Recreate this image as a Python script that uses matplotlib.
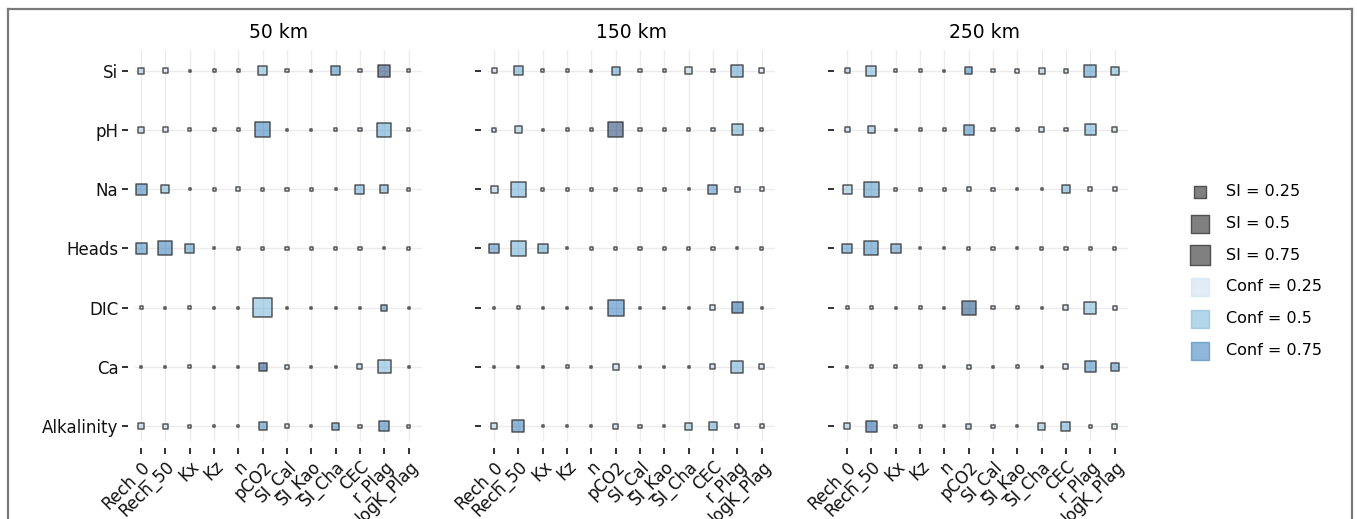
import numpy as np
import matplotlib
matplotlib.use("Agg")
import matplotlib.pyplot as plt
from matplotlib.lines import Line2D

params = ["Rech_0", "Rech_50", "Kx", "Kz", "n", "pCO2", "SI_Cal", "SI_Kao",
          "SI_Cha", "CEC", "r_Plag", "logK_Plag"]
targets = ["Si", "pH", "Na", "Heads", "DIC", "Ca", "Alkalinity"]
distances = ["50 km", "150 km", "250 km"]

# sensitivity index (marker size), one row per target
si_50 = [
    [0.06, 0.043, 0.007, 0.016, 0.016, 0.14, 0.016, 0.007, 0.14, 0.016, 0.25, 0.016],
    [0.06, 0.043, 0.016, 0.016, 0.016, 0.39, 0.007, 0.007, 0.016, 0.016, 0.34, 0.016],
    [0.21, 0.11, 0.007, 0.016, 0.028, 0.016, 0.016, 0.016, 0.007, 0.14, 0.11, 0.016],
    [0.21, 0.34, 0.14, 0.007, 0.016, 0.016, 0.016, 0.016, 0.016, 0.016, 0.007, 0.016],
    [0.016, 0.007, 0.016, 0.007, 0.007, 0.62, 0.007, 0.007, 0.007, 0.007, 0.06, 0.007],
    [0.007, 0.007, 0.016, 0.007, 0.007, 0.11, 0.028, 0.007, 0.007, 0.043, 0.29, 0.007],
    [0.06, 0.043, 0.016, 0.007, 0.007, 0.11, 0.028, 0.007, 0.085, 0.016, 0.17, 0.016],
]
si_150 = [
    [0.043, 0.14, 0.016, 0.016, 0.007, 0.11, 0.016, 0.016, 0.085, 0.016, 0.25, 0.043],
    [0.028, 0.085, 0.007, 0.016, 0.016, 0.39, 0.016, 0.016, 0.016, 0.016, 0.21, 0.016],
    [0.085, 0.39, 0.016, 0.016, 0.016, 0.016, 0.016, 0.016, 0.007, 0.14, 0.043, 0.028],
    [0.17, 0.39, 0.17, 0.007, 0.016, 0.016, 0.016, 0.016, 0.016, 0.016, 0.007, 0.016],
    [0.007, 0.016, 0.007, 0.007, 0.007, 0.44, 0.007, 0.007, 0.007, 0.043, 0.21, 0.007],
    [0.007, 0.007, 0.007, 0.016, 0.007, 0.06, 0.007, 0.007, 0.007, 0.043, 0.25, 0.043],
    [0.06, 0.25, 0.007, 0.007, 0.007, 0.043, 0.016, 0.007, 0.085, 0.11, 0.028, 0.028],
]
si_250 = [
    [0.043, 0.17, 0.016, 0.016, 0.007, 0.085, 0.016, 0.028, 0.06, 0.028, 0.25, 0.11],
    [0.043, 0.085, 0.007, 0.016, 0.016, 0.17, 0.016, 0.016, 0.043, 0.016, 0.21, 0.043],
    [0.14, 0.39, 0.016, 0.016, 0.016, 0.028, 0.016, 0.007, 0.007, 0.11, 0.028, 0.028],
    [0.17, 0.34, 0.17, 0.007, 0.007, 0.016, 0.016, 0.007, 0.016, 0.016, 0.016, 0.016],
    [0.016, 0.016, 0.007, 0.016, 0.007, 0.34, 0.016, 0.016, 0.007, 0.043, 0.25, 0.028],
    [0.007, 0.016, 0.016, 0.016, 0.007, 0.028, 0.007, 0.016, 0.007, 0.043, 0.21, 0.11],
    [0.06, 0.21, 0.016, 0.016, 0.007, 0.043, 0.016, 0.007, 0.085, 0.14, 0.016, 0.043],
]

# confidence (marker colour)
conf_50 = [
    [0.4, 0.2, 0.3, 0.3, 0.3, 0.5, 0.3, 0.3, 0.7, 0.3, 1.0, 0.3],
    [0.35, 0.2, 0.3, 0.3, 0.3, 0.75, 0.3, 0.3, 0.3, 0.3, 0.6, 0.3],
    [0.75, 0.5, 0.3, 0.3, 0.2, 0.3, 0.3, 0.3, 0.3, 0.55, 0.55, 0.3],
    [0.7, 0.75, 0.65, 0.3, 0.3, 0.3, 0.3, 0.3, 0.3, 0.3, 0.3, 0.3],
    [0.3, 0.3, 0.3, 0.3, 0.3, 0.5, 0.3, 0.3, 0.3, 0.3, 0.7, 0.3],
    [0.3, 0.3, 0.3, 0.3, 0.3, 0.95, 0.3, 0.3, 0.3, 0.35, 0.5, 0.3],
    [0.35, 0.3, 0.3, 0.3, 0.3, 0.7, 0.25, 0.3, 0.7, 0.3, 0.75, 0.3],
]
conf_150 = [
    [0.3, 0.55, 0.3, 0.3, 0.3, 0.6, 0.3, 0.3, 0.35, 0.3, 0.6, 0.2],
    [0.3, 0.4, 0.3, 0.3, 0.3, 1.0, 0.3, 0.3, 0.3, 0.3, 0.55, 0.3],
    [0.35, 0.55, 0.3, 0.3, 0.3, 0.3, 0.3, 0.3, 0.3, 0.65, 0.2, 0.2],
    [0.7, 0.55, 0.6, 0.3, 0.3, 0.3, 0.3, 0.3, 0.3, 0.3, 0.3, 0.3],
    [0.3, 0.3, 0.3, 0.3, 0.3, 0.75, 0.3, 0.3, 0.3, 0.25, 0.85, 0.3],
    [0.3, 0.3, 0.3, 0.3, 0.3, 0.3, 0.3, 0.3, 0.3, 0.3, 0.55, 0.3],
    [0.35, 0.75, 0.3, 0.3, 0.3, 0.3, 0.3, 0.3, 0.45, 0.55, 0.25, 0.25],
]
conf_250 = [
    [0.4, 0.5, 0.3, 0.3, 0.3, 0.7, 0.3, 0.2, 0.4, 0.3, 0.65, 0.5],
    [0.3, 0.45, 0.3, 0.3, 0.3, 0.7, 0.3, 0.3, 0.3, 0.3, 0.55, 0.3],
    [0.45, 0.65, 0.3, 0.3, 0.3, 0.3, 0.3, 0.3, 0.3, 0.55, 0.25, 0.25],
    [0.65, 0.7, 0.65, 0.3, 0.3, 0.3, 0.3, 0.3, 0.3, 0.3, 0.3, 0.3],
    [0.3, 0.3, 0.3, 0.3, 0.3, 0.95, 0.3, 0.3, 0.3, 0.3, 0.5, 0.25],
    [0.3, 0.3, 0.3, 0.3, 0.3, 0.3, 0.3, 0.3, 0.3, 0.3, 0.7, 0.65],
    [0.4, 0.85, 0.3, 0.3, 0.3, 0.4, 0.3, 0.3, 0.45, 0.55, 0.3, 0.3],
]

si_all = [si_50, si_150, si_250]
conf_all = [conf_50, conf_150, conf_250]

legend_si = [0.25, 0.5, 0.75]
legend_conf = [0.25, 0.5, 0.75]

SIZE = 300  # points^2 per unit SI
cmap = plt.get_cmap("Blues")
FS = 12

fig = plt.figure(figsize=(13.57, 5.19), dpi=100)

lefts = [135 / 1357, 488 / 1357, 841 / 1357]
width = 287 / 1357
bottom = 1 - 441 / 519
height = (441 - 50) / 519

xx, yy = np.meshgrid(np.arange(len(params)), np.arange(len(targets)))

for i, name in enumerate(distances):
    ax = fig.add_axes([lefts[i], bottom, width, height])
    si = np.array(si_all[i])
    conf = np.array(conf_all[i])
    faces = cmap(conf.ravel())
    faces[:, 3] = 0.5
    ax.scatter(xx.ravel(), yy.ravel(), s=si.ravel() * SIZE, marker="s",
               c=faces, edgecolors=(0.2, 0.2, 0.2, 0.8), linewidths=1.1,
               zorder=3)
    ax.set_xlim(-0.25, 11.55)
    ax.set_ylim(6.25, -0.35)
    ax.grid(True, color="#ebebeb", lw=1.0)
    ax.set_axisbelow(True)
    for side in ["left", "bottom"]:
        ax.spines[side].set_position(("outward", 5))
    for side in ax.spines:
        ax.spines[side].set_visible(False)
    ax.tick_params(axis="both", length=4, width=1.3, color="#222222",
                   labelcolor="#111111", pad=3, labelsize=FS)
    ax.set_xticks(range(len(params)))
    ax.set_xticklabels(params)
    for lab in ax.get_xticklabels():
        lab.set_rotation(45)
        lab.set_ha("right")
        lab.set_rotation_mode("anchor")
    ax.set_yticks(range(len(targets)))
    if i == 0:
        ax.set_yticklabels(targets)
    else:
        ax.set_yticklabels([])
    ax.set_title(name, fontsize=13.5, pad=9)

# legend proxies
handles = []
labels = []
for v in legend_si:
    handles.append(ax.scatter([], [], s=v * SIZE, marker="s", c="#808080",
                              edgecolors="#505050", linewidths=1.0))
    labels.append(f"SI = {v}")
for v in legend_conf:
    col = list(cmap(v))
    col[3] = 0.5
    handles.append(ax.scatter([], [], s=0.5 * SIZE, marker="s", c=[col],
                              edgecolors=[col], linewidths=1.0))
    labels.append(f"Conf = {v}")
fig.legend(handles, labels, loc="center left",
           bbox_to_anchor=(1170 / 1357, 1 - 271 / 519), frameon=False,
           fontsize=11.5, labelspacing=1.05, handletextpad=0.6,
           scatterpoints=1)

# grey frame around the figure
frame_kw = dict(color="#7a7a7a", lw=1.6, transform=fig.transFigure)
fig.add_artist(Line2D([8 / 1357, 1352 / 1357], [1 - 9 / 519, 1 - 9 / 519], **frame_kw))
fig.add_artist(Line2D([8 / 1357, 8 / 1357], [0, 1 - 9 / 519], **frame_kw))
fig.add_artist(Line2D([1352 / 1357, 1352 / 1357], [0, 1 - 9 / 519], **frame_kw))

fig.savefig("out.png", dpi=100)
